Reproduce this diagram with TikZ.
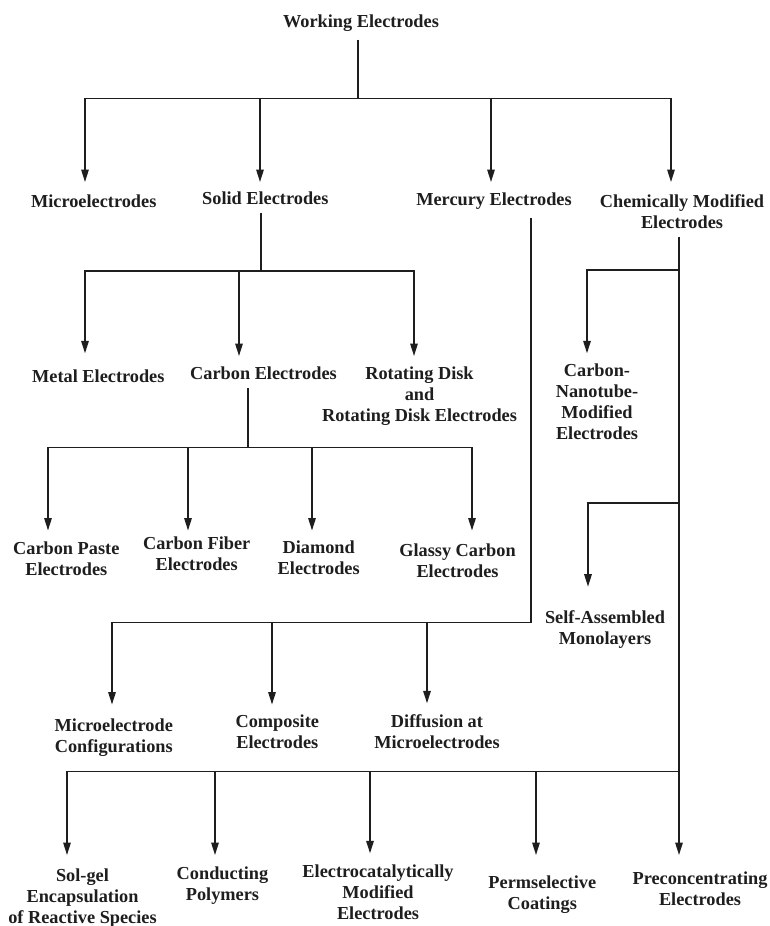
\documentclass[tikz,border=0pt]{standalone}
\usepackage{fontspec}
\setmainfont{Liberation Serif}
\usetikzlibrary{arrows.meta}
\definecolor{ink}{HTML}{1E1E1E}
\begin{document}
\begin{tikzpicture}[x=1pt,y=-1pt,
  lbl/.style={font=\fontsize{18.3}{21}\selectfont\bfseries, align=center,
              inner sep=0pt, text=ink, anchor=north},
  wire/.style={draw=ink, line width=1.5pt},
  stem/.style={wire, shorten <=8pt},
  arr/.style={wire, -{Triangle[length=12.5pt,width=7.5pt]}, shorten >=#1},
  arr/.default=10pt]
\useasboundingbox[fill=white] (0,0) rectangle (769,926);

% ---- labels (placed by the top of their first line)
\node[lbl] (we)     at (361,14.5)   {Working Electrodes};
\node[lbl] (micro)  at (93.7,194.5) {Microelectrodes};
\node[lbl] (solid)  at (265.3,191.5) {Solid Electrodes};
\node[lbl] (merc)   at (494,192.8)  {Mercury Electrodes};
\node[lbl] (cme)    at (682,194.5)  {Chemically Modified\\Electrodes};
\node[lbl] (metal)  at (98.3,369.8) {Metal Electrodes};
\node[lbl] (carbon) at (263.5,366.5) {Carbon Electrodes};
\node[lbl] (rde)    at (419.5,366.5) {Rotating Disk\\and\\Rotating Disk Electrodes};
\node[lbl] (cnt)    at (597,363.8)  {Carbon-\\Nanotube-\\Modified\\Electrodes};
\node[lbl] (paste)  at (66.3,541.5) {Carbon Paste\\Electrodes};
\node[lbl] (fiber)  at (196.7,536.5) {Carbon Fiber\\Electrodes};
\node[lbl] (diam)   at (318.7,540.5) {Diamond\\Electrodes};
\node[lbl] (glassy) at (457.5,543.1) {Glassy Carbon\\Electrodes};
\node[lbl] (sam)    at (605,610.5)  {Self-Assembled\\Monolayers};
\node[lbl] (mconf)  at (113.8,718.8) {Microelectrode\\Configurations};
\node[lbl] (comp)   at (277.3,714.5) {Composite\\Electrodes};
\node[lbl] (diff)   at (437,714.5)  {Diffusion at\\Microelectrodes};
\node[lbl] (solgel) at (82.5,868.8) {Sol-gel\\Encapsulation\\of Reactive Species};
\node[lbl] (cond)   at (222.5,866.5) {Conducting\\Polymers};
\node[lbl] (elcat)  at (378,864.8)  {Electrocatalytically\\Modified\\Electrodes};
\node[lbl] (perm)   at (542.3,875.3) {Permselective\\Coatings};
\node[lbl] (precon) at (700,871.5)  {Preconcentrating\\Electrodes};

% ---- junctions on the buses
\coordinate (jW)  at (358,98.3);
\coordinate (jW1) at (85,98.3);
\coordinate (jW2) at (260,98.3);
\coordinate (jW3) at (491,98.3);
\coordinate (jW4) at (671,98.3);

\coordinate (jS)  at (261,271);
\coordinate (jS1) at (85,271);
\coordinate (jS2) at (239,271);
\coordinate (jS3) at (414,271);

\coordinate (jC)  at (248,447.5);
\coordinate (jC1) at (48,447.5);
\coordinate (jC2) at (188,447.5);
\coordinate (jC3) at (312,447.5);
\coordinate (jC4) at (472,447.5);

\coordinate (jR)  at (531,622.5);
\coordinate (jR1) at (112,622.5);
\coordinate (jR2) at (272,622.5);
\coordinate (jR3) at (427,622.5);

\coordinate (jM)  at (679,236);
\coordinate (jM1) at (679,270);
\coordinate (jN)  at (587,270);
\coordinate (jM2) at (679,503);
\coordinate (jA)  at (588,503);
\coordinate (jB)  at (679,771.7);
\coordinate (jB1) at (67,771.7);
\coordinate (jB2) at (215,771.7);
\coordinate (jB3) at (370,771.7);
\coordinate (jB4) at (536,771.7);

% ---- Working Electrodes
\draw[stem] (we.south -| jW) -- (jW);
\draw[arr=12.5pt] (jW) -| (jW1 |- micro.north);
\draw[arr=12.5pt] (jW) -| (jW4 |- cme.north);
\draw[arr=9.5pt]  (jW2) -- (jW2 |- solid.north);
\draw[arr=10.8pt] (jW3) -- (jW3 |- merc.north);

% ---- Solid Electrodes
\draw[stem] (solid.south -| jS) -- (jS);
\draw[arr=16.5pt] (jS) -| (jS1 |- metal.north);
\draw[arr=10.5pt] (jS) -| (jS3 |- rde.north);
\draw[arr=10.5pt] (jS2) -- (jS2 |- carbon.north);

% ---- Carbon Electrodes
\draw[stem] (carbon.south -| jC) -- (jC);
\draw[arr=11pt]   (jC) -| (jC1 |- paste.north);
\draw[arr=12.6pt] (jC) -| (jC4 |- glassy.north);
\draw[arr=6pt]    (jC2) -- (jC2 |- fiber.north);
\draw[arr=10pt]   (jC3) -- (jC3 |- diam.north);

% ---- Mercury Electrodes
\draw[arr=14.3pt, shorten <=8pt] (merc.south -| jR) -- (jR) -| (jR1 |- mconf.north);
\draw[arr=10pt]   (jR2) -- (jR2 |- comp.north);
\draw[arr=11.2pt] (jR3) -- (jR3 |- diff.north);

% ---- Chemically Modified Electrodes
\draw[arr=16.5pt, shorten <=8pt] (cme.south -| jM) -- (jM |- precon.north);
\draw[arr=10.5pt] (jM1) -| (jN |- cnt.north);
\draw[arr=23.8pt] (jM2) -| (jA |- sam.north);
\draw[arr=13.8pt] (jB) -| (jB1 |- solgel.north);
\draw[arr=11.5pt] (jB2) -- (jB2 |- cond.north);
\draw[arr=11.5pt] (jB3) -- (jB3 |- elcat.north);
\draw[arr=20.3pt] (jB4) -- (jB4 |- perm.north);
\end{tikzpicture}
\end{document}
